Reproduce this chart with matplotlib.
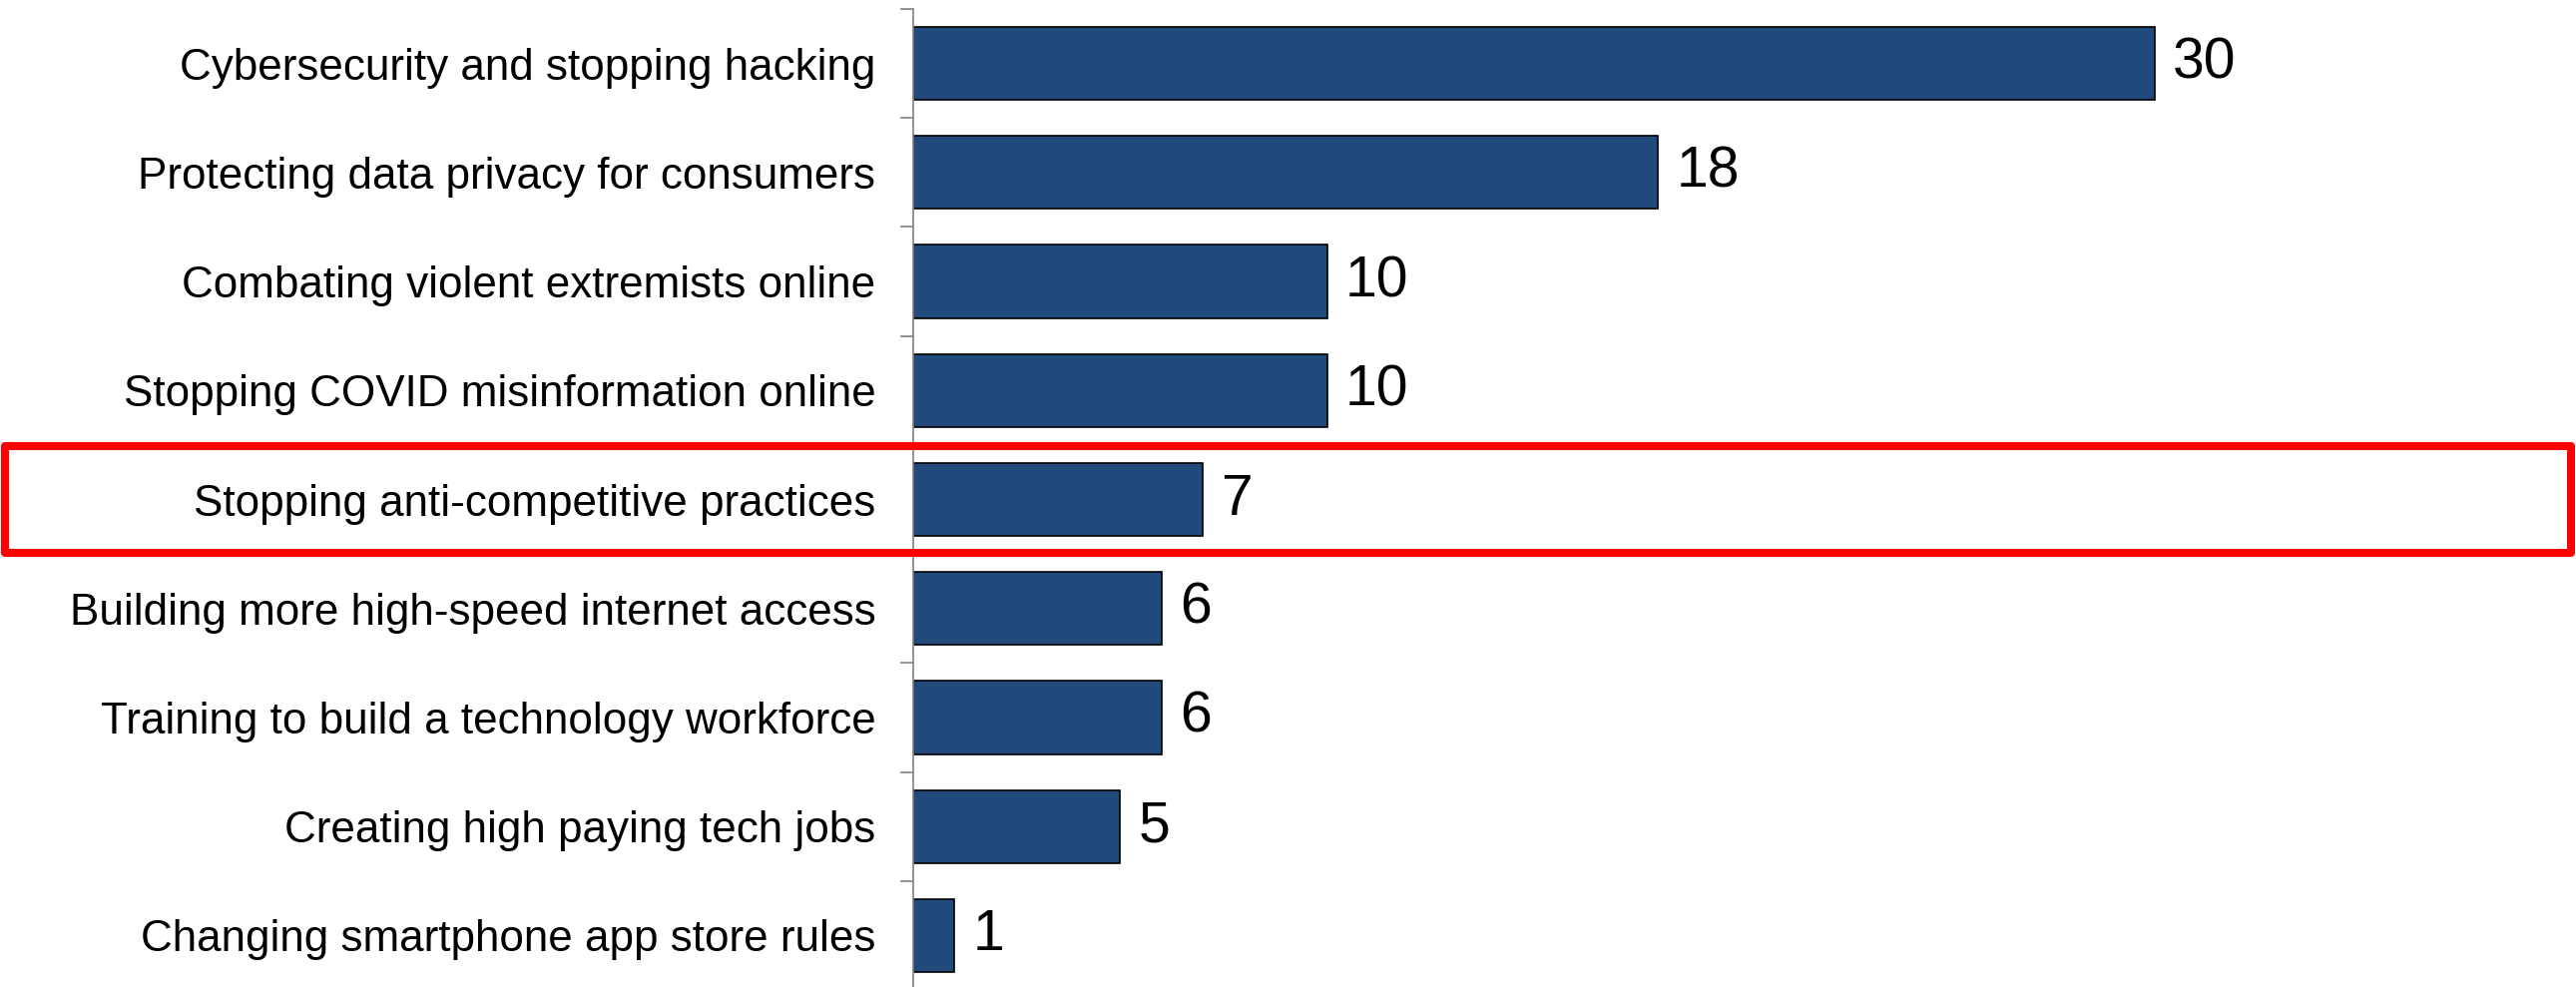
import matplotlib.pyplot as plt
from matplotlib.patches import Rectangle
from matplotlib.transforms import blended_transform_factory

plt.rcParams['font.family'] = ['Liberation Sans', 'DejaVu Sans']

labels = ["Cybersecurity and stopping hacking",
          "Protecting data privacy for consumers",
          "Combating violent extremists online",
          "Stopping COVID misinformation online",
          "Stopping anti-competitive practices",
          "Building more high-speed internet access",
          "Training to build a technology workforce",
          "Creating high paying tech jobs",
          "Changing smartphone app store rules"]
values = [30, 18, 10, 10, 7, 6, 6, 5, 1]
highlight = 4

W, H = 2581, 989
fig = plt.figure(figsize=(W / 100, H / 100), dpi=100)
ax = fig.add_axes([915 / W, (H - 992) / H, 1 - 915 / W, 983 / H])

pos = list(range(len(labels)))
bars = ax.barh(pos, values, height=0.67, color="#204A7C", edgecolor="black", linewidth=1.2)
for b, v in zip(bars, values):
    ax.text(b.get_width() + 0.43, b.get_y() + b.get_height() / 2, str(v),
            va="center", ha="left", fontsize=41)

ax.set_xlim(0, (W - 915) / 41.47)
ax.set_ylim(len(labels) - 0.5, -0.5)
ax.set_yticks(pos)
ax.set_yticklabels(labels, fontsize=31.7)
ax.tick_params(axis="y", which="major", length=0, pad=27)
ax.set_yticks([p + 0.5 for p in [-1] + pos], minor=True)
ax.tick_params(axis="y", which="minor", length=9.4, width=1.2, color="#808080")
ax.set_xticks([])
for s in ["top", "right", "bottom"]:
    ax.spines[s].set_visible(False)
ax.spines["left"].set_color("#808080")
ax.spines["left"].set_linewidth(1.2)

tr = blended_transform_factory(fig.transFigure, ax.transData)
box = Rectangle((5 / W, highlight - 0.49), (2576 - 5) / W, 0.98, transform=tr,
                fill=False, edgecolor="#FF0000", linewidth=5.8, clip_on=False,
                joinstyle="round")
fig.add_artist(box)

fig.savefig("out.png", dpi=100)
